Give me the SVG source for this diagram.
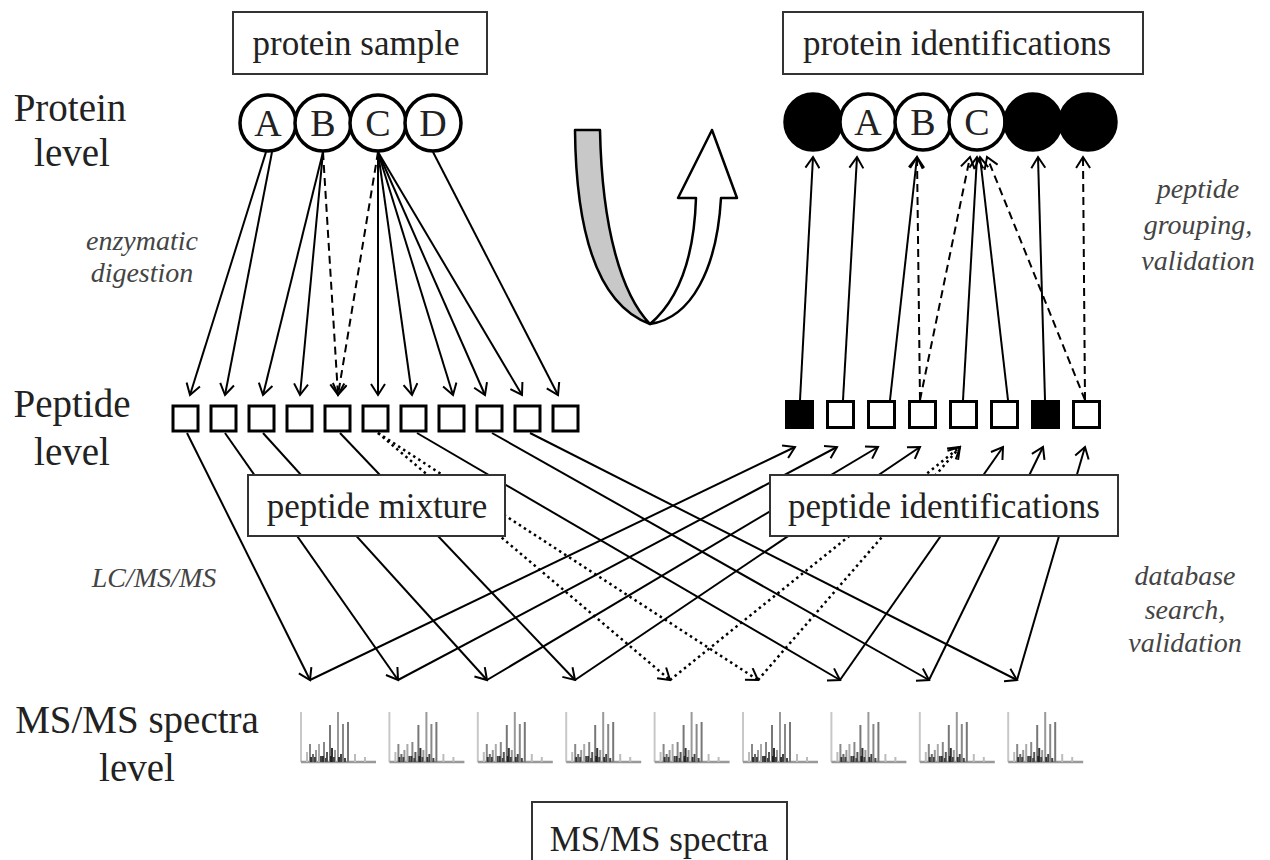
<svg xmlns="http://www.w3.org/2000/svg" xmlns:xlink="http://www.w3.org/1999/xlink" width="1270" height="860" viewBox="0 0 1270 860">
<style>
text{font-family:"Liberation Serif","Times New Roman",serif}
.box{fill:#fff;stroke:#333;stroke-width:2}
.bt{font-size:35px;fill:#222;text-anchor:middle}
.lv{font-size:39px;fill:#222;text-anchor:middle}
.it{font-style:italic;font-size:28px;fill:#444;text-anchor:middle}
.c{fill:#fff;stroke:#000;stroke-width:3.5}
.cf{fill:#000;stroke:#000;stroke-width:3.5}
.ct{font-size:38px;fill:#222;text-anchor:middle}
.sq{fill:#fff;stroke:#000;stroke-width:3}
.sqf{fill:#000;stroke:#000;stroke-width:3}
.ln{stroke:#000;stroke-width:2;fill:none;marker-end:url(#ah)}
.dash{stroke-dasharray:8 5}
.dot{stroke-dasharray:2.5 3.5;stroke-width:2.5}
.ax{stroke:#c8c8c8;stroke-width:2}
.bl{stroke:#999;stroke-width:2.5}
</style>
<defs>
<marker id="ah" viewBox="0 0 16 16" refX="14" refY="8" markerWidth="16" markerHeight="16" markerUnits="userSpaceOnUse" orient="auto">
<path d="M3,1 L14,8 L3,15" fill="none" stroke="#000" stroke-width="2" stroke-dasharray="none"/>
</marker>
<g id="spec">
<line class="ax" x1="0" y1="0" x2="0" y2="50"/>
<line class="bl" x1="0" y1="50" x2="75" y2="50"/>
<g stroke-width="2">
<line x1="6" y1="50" x2="6" y2="40" stroke="#bbb"/>
<line x1="9" y1="50" x2="9" y2="32" stroke="#888"/>
<line x1="12" y1="50" x2="12" y2="42" stroke="#666"/>
<line x1="15" y1="50" x2="15" y2="38" stroke="#999"/>
<line x1="18" y1="50" x2="18" y2="32" stroke="#aaa"/>
<line x1="20" y1="50" x2="20" y2="44" stroke="#444"/>
<line x1="23" y1="50" x2="23" y2="30" stroke="#888"/>
<line x1="26" y1="50" x2="26" y2="40" stroke="#555"/>
<line x1="29" y1="50" x2="29" y2="13" stroke="#777"/>
<line x1="31" y1="50" x2="31" y2="36" stroke="#333"/>
<line x1="34" y1="50" x2="34" y2="38" stroke="#999"/>
<line x1="37" y1="50" x2="37" y2="0" stroke="#999"/>
<line x1="40" y1="50" x2="40" y2="42" stroke="#444"/>
<line x1="42" y1="50" x2="42" y2="12" stroke="#888"/>
<line x1="47" y1="50" x2="47" y2="10" stroke="#777"/>
<line x1="54" y1="50" x2="54" y2="42" stroke="#bbb"/>
<line x1="64" y1="50" x2="64" y2="45" stroke="#bbb"/>
<line x1="10" y1="50" x2="10" y2="45" stroke="#333"/>
<line x1="14" y1="50" x2="14" y2="45" stroke="#444"/>
<line x1="22" y1="50" x2="22" y2="44" stroke="#333"/>
<line x1="25" y1="50" x2="25" y2="46" stroke="#444"/>
<line x1="30" y1="50" x2="30" y2="44" stroke="#222"/>
<line x1="33" y1="50" x2="33" y2="45" stroke="#444"/>
<line x1="38" y1="50" x2="38" y2="45" stroke="#333"/>
<line x1="44" y1="50" x2="44" y2="46" stroke="#444"/>
</g>
</g>
</defs>
<rect width="1270" height="860" fill="#fff"/>

<g id="connectors">
<line class="ln" x1="266" y1="152" x2="190" y2="395"/>
<line class="ln" x1="272" y1="152" x2="225" y2="395"/>
<line class="ln" x1="323" y1="152" x2="263" y2="395"/>
<line class="ln" x1="323" y1="152" x2="300" y2="395"/>
<line class="ln dash" x1="323" y1="152" x2="338" y2="395"/>
<line class="ln dash" x1="378" y1="152" x2="338" y2="395"/>
<line class="ln" x1="378" y1="152" x2="378" y2="395"/>
<line class="ln" x1="378" y1="152" x2="412" y2="395"/>
<line class="ln" x1="378" y1="152" x2="453" y2="395"/>
<line class="ln" x1="378" y1="152" x2="485" y2="395"/>
<line class="ln" x1="378" y1="152" x2="522" y2="395"/>
<line class="ln" x1="433" y1="152" x2="558" y2="395"/>
<line class="ln" x1="187" y1="433" x2="310" y2="680"/>
<line class="ln" x1="225" y1="433" x2="398" y2="680"/>
<line class="ln" x1="263" y1="433" x2="487" y2="680"/>
<line class="ln" x1="340" y1="433" x2="575" y2="680"/>
<line class="ln dot" x1="378" y1="433" x2="670" y2="680"/>
<line class="ln dot" x1="378" y1="433" x2="758" y2="680"/>
<line class="ln" x1="417" y1="433" x2="840" y2="680"/>
<line class="ln" x1="492" y1="433" x2="929" y2="680"/>
<line class="ln" x1="530" y1="433" x2="1017" y2="680"/>
<line class="ln" x1="310" y1="680" x2="795" y2="447"/>
<line class="ln" x1="398" y1="680" x2="837" y2="447"/>
<line class="ln" x1="487" y1="680" x2="878" y2="447"/>
<line class="ln" x1="575" y1="680" x2="920" y2="447"/>
<line class="ln dot" x1="670" y1="680" x2="960" y2="447"/>
<line class="ln dot" x1="758" y1="680" x2="960" y2="447"/>
<line class="ln" x1="840" y1="680" x2="1003" y2="447"/>
<line class="ln" x1="929" y1="680" x2="1043" y2="447"/>
<line class="ln" x1="1017" y1="680" x2="1085" y2="447"/>
<line class="ln" x1="800" y1="400" x2="813" y2="157"/>
<line class="ln" x1="843" y1="400" x2="857" y2="157"/>
<line class="ln" x1="890" y1="400" x2="917" y2="157"/>
<line class="ln dash" x1="920" y1="400" x2="917" y2="157"/>
<line class="ln dash" x1="920" y1="400" x2="970" y2="157"/>
<line class="ln" x1="963" y1="400" x2="977" y2="157"/>
<line class="ln" x1="1008" y1="400" x2="980" y2="157"/>
<line class="ln dash" x1="1085" y1="400" x2="987" y2="157"/>
<line class="ln" x1="1045" y1="400" x2="1038" y2="157"/>
<line class="ln dash" x1="1085" y1="400" x2="1083" y2="157"/>
</g>

<g id="level-labels">
<text class="lv" x="70" y="121">Protein</text>
<text class="lv" x="72" y="166">level</text>
<text class="lv" x="72" y="417">Peptide</text>
<text class="lv" x="72" y="465">level</text>
<text class="lv" x="137" y="733">MS/MS spectra</text>
<text class="lv" x="137" y="781">level</text>
</g>

<g id="step-labels">
<text class="it" x="142" y="250">enzymatic</text>
<text class="it" x="142" y="282">digestion</text>
<text class="it" x="154" y="587">LC/MS/MS</text>
<text class="it" x="1198" y="198">peptide</text>
<text class="it" x="1198" y="234">grouping,</text>
<text class="it" x="1198" y="270">validation</text>
<text class="it" x="1185" y="585">database</text>
<text class="it" x="1185" y="619">search,</text>
<text class="it" x="1185" y="652">validation</text>
</g>

<g id="protein-sample">
<rect class="box" x="233" y="12" width="254" height="62"/>
<text class="bt" x="356" y="55">protein sample</text>
</g>
<g id="protein-identifications">
<rect class="box" x="783" y="12" width="360" height="62"/>
<text class="bt" x="957" y="55">protein identifications</text>
</g>

<g id="proteins-left">
<circle class="c" cx="268" cy="123" r="28"/><text class="ct" x="268" y="136">A</text>
<circle class="c" cx="323" cy="123" r="28"/><text class="ct" x="323" y="136">B</text>
<circle class="c" cx="378" cy="123" r="28"/><text class="ct" x="378" y="136">C</text>
<circle class="c" cx="433" cy="123" r="28"/><text class="ct" x="433" y="136">D</text>
</g>

<g id="proteins-right">
<circle class="cf" cx="813" cy="122" r="28"/>
<circle class="c" cx="868" cy="122" r="28"/><text class="ct" x="868" y="135">A</text>
<circle class="c" cx="923" cy="122" r="28"/><text class="ct" x="923" y="135">B</text>
<circle class="c" cx="977" cy="122" r="28"/><text class="ct" x="977" y="135">C</text>
<circle class="cf" cx="1033" cy="122" r="28"/>
<circle class="cf" cx="1088" cy="122" r="28"/>
</g>

<g id="cycle-arrow" stroke="#000" stroke-width="2.5" stroke-linejoin="round">
<path d="M575,130 L600,130 C602,230 622,295 650,324 C598,305 576,235 575,130 Z" fill="#c8c8c8"/>
<path d="M650,324 C692,318 717,268 721,198 L737,198 L712,130 L678,198 L696,198 C694,262 676,302 650,324 Z" fill="#fff"/>
</g>

<g id="peptides-left">
<rect class="sq" x="173" y="406" width="25" height="25"/>
<rect class="sq" x="211" y="406" width="25" height="25"/>
<rect class="sq" x="249" y="406" width="25" height="25"/>
<rect class="sq" x="287" y="406" width="25" height="25"/>
<rect class="sq" x="325" y="406" width="25" height="25"/>
<rect class="sq" x="363" y="406" width="25" height="25"/>
<rect class="sq" x="401" y="406" width="25" height="25"/>
<rect class="sq" x="439" y="406" width="25" height="25"/>
<rect class="sq" x="477" y="406" width="25" height="25"/>
<rect class="sq" x="515" y="406" width="25" height="25"/>
<rect class="sq" x="553" y="406" width="25" height="25"/>
</g>

<g id="peptides-right">
<rect class="sqf" x="786.5" y="401.5" width="26" height="26"/>
<rect class="sq" x="827.5" y="401.5" width="26" height="26"/>
<rect class="sq" x="868.5" y="401.5" width="26" height="26"/>
<rect class="sq" x="909.5" y="401.5" width="26" height="26"/>
<rect class="sq" x="950.5" y="401.5" width="26" height="26"/>
<rect class="sq" x="991.5" y="401.5" width="26" height="26"/>
<rect class="sqf" x="1032.5" y="401.5" width="26" height="26"/>
<rect class="sq" x="1073.5" y="401.5" width="26" height="26"/>
</g>

<g id="peptide-mixture">
<rect class="box" x="248" y="475" width="257" height="61"/>
<text class="bt" x="377" y="518">peptide mixture</text>
</g>
<g id="peptide-identifications">
<rect class="box" x="770" y="475" width="348" height="61"/>
<text class="bt" x="944" y="518">peptide identifications</text>
</g>

<g id="spectra">
<use xlink:href="#spec" x="301" y="712"/>
<use xlink:href="#spec" x="389.4" y="712"/>
<use xlink:href="#spec" x="477.8" y="712"/>
<use xlink:href="#spec" x="566.2" y="712"/>
<use xlink:href="#spec" x="654.6" y="712"/>
<use xlink:href="#spec" x="743" y="712"/>
<use xlink:href="#spec" x="831.4" y="712"/>
<use xlink:href="#spec" x="919.8" y="712"/>
<use xlink:href="#spec" x="1008.2" y="712"/>
</g>

<g id="ms-spectra">
<rect class="box" x="532" y="802" width="255" height="70"/>
<text class="bt" x="659" y="851">MS/MS spectra</text>
</g>
</svg>
